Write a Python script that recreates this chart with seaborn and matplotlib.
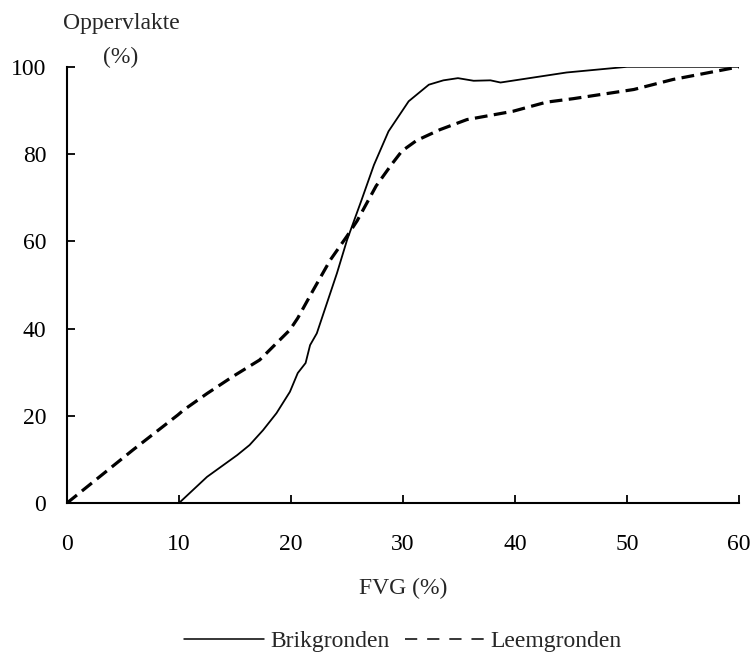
import numpy as np
import pandas as pd
import matplotlib
matplotlib.use("Agg")
import matplotlib.pyplot as plt
import seaborn as sns
from matplotlib.lines import Line2D

# Brikgronden (solid line)
brik_fvg = [10.0, 12.5, 15.2, 16.3, 17.5, 18.7, 19.9, 20.6, 21.3, 21.7, 22.3, 23.2, 24.1, 25.0,
            26.3, 27.4, 28.7, 30.5, 32.3, 33.6, 34.9, 36.3, 37.8, 38.7, 44.6, 50.0, 60.0]
brik_opp = [0.0, 6.0, 11.0, 13.3, 16.7, 20.6, 25.5, 29.8, 32.1, 36.2, 38.9, 45.8, 52.7, 60.3,
            69.5, 77.5, 85.2, 92.1, 95.9, 96.9, 97.4, 96.8, 96.9, 96.4, 98.7, 100.0, 100.0]

# Leemgronden (dashed line)
leem_fvg = [0.0, 2.9, 5.9, 9.9, 10.4, 12.5, 14.8, 17.2, 19.9, 20.6, 22.0, 23.5, 25.0, 25.9,
            27.6, 29.0, 29.9, 31.2, 33.3, 35.7, 39.8, 42.8, 45.2, 50.6, 54.1, 60.0]
leem_opp = [0.0, 6.0, 12.2, 20.2, 21.3, 25.1, 29.0, 32.8, 39.7, 42.4, 48.9, 55.7, 61.2, 64.7,
            72.7, 77.7, 80.7, 83.1, 85.6, 87.9, 89.8, 91.9, 92.7, 94.8, 97.1, 100.0]

x_ticks = [0, 10, 20, 30, 40, 50, 60]
y_ticks = [0, 20, 40, 60, 80, 100]

df = pd.concat([
    pd.DataFrame({"FVG": brik_fvg, "Opp": brik_opp, "Grond": "Brikgronden"}),
    pd.DataFrame({"FVG": leem_fvg, "Opp": leem_opp, "Grond": "Leemgronden"}),
])

sns.set_style("ticks")
plt.rcParams["font.family"] = ["Liberation Serif", "DejaVu Serif"]
fs = 17

fig = plt.figure(figsize=(7.51, 6.55), dpi=100)
ax = fig.add_axes([0.0892, 0.232, 0.895, 0.666])

sns.lineplot(data=df, x="FVG", y="Opp", hue="Grond", style="Grond",
             palette=["black", "black"], dashes=[(), (4, 2)],
             sort=False, estimator=None, ax=ax, legend=False)
ax.lines[0].set_linewidth(1.3)
ax.lines[1].set_linewidth(2.3)

ax.set_xlim(0, 60)
ax.set_ylim(0, 100)
ax.set_xticks(x_ticks)
ax.set_yticks(y_ticks)
ax.tick_params(axis="both", direction="in", length=6, width=1.3, labelsize=fs,
               colors="black")
ax.tick_params(axis="y", pad=15)
ax.tick_params(axis="x", pad=22)
sns.despine(ax=ax)
for s in ["left", "bottom"]:
    ax.spines[s].set_linewidth(1.5)
    ax.spines[s].set_color("black")

ax.set_xlabel("")
ax.set_ylabel("")
fig.text(121 / 751, 1 - 23 / 655, "Oppervlakte", ha="center", va="center", fontsize=fs)
fig.text(121 / 751, 1 - 57 / 655, "(%)", ha="center", va="center", fontsize=fs)
fig.text(403 / 751, 1 - 588 / 655, "FVG (%)", ha="center", va="center", fontsize=fs)

handles = [Line2D([], [], color="black", lw=1.1),
           Line2D([], [], color="black", lw=1.1, dashes=(8, 6.5))]
fig.legend(handles, ["Brikgronden", "Leemgronden"], loc="center",
           bbox_to_anchor=(403 / 751, 1 - 641 / 655), ncol=2, frameon=False,
           fontsize=fs, handlelength=3.4, handletextpad=0.25, columnspacing=0.64)

fig.savefig("out.png", dpi=100)
